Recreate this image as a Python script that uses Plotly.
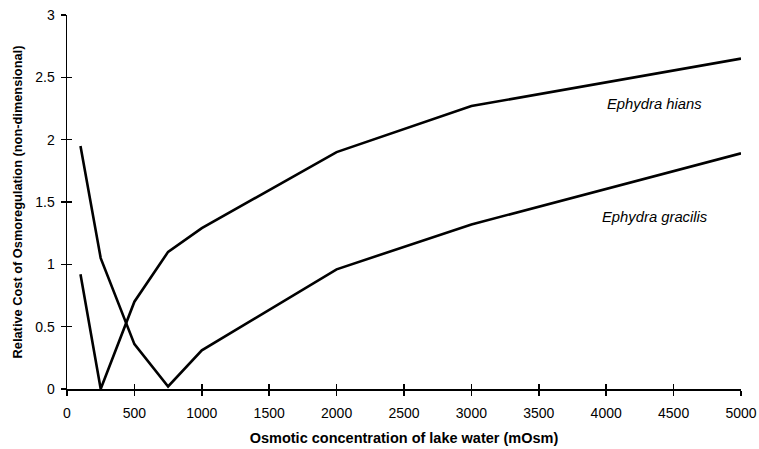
import plotly.graph_objects as go

# Data
osm = [100, 250, 500, 750, 1000, 2000, 3000, 5000]
hians = [0.92, 0.0, 0.70, 1.10, 1.29, 1.90, 2.27, 2.65]
gracilis = [1.95, 1.05, 0.36, 0.02, 0.31, 0.96, 1.32, 1.89]
x_ticks = [0, 500, 1000, 1500, 2000, 2500, 3000, 3500, 4000, 4500, 5000]
y_ticks = [0, 0.5, 1, 1.5, 2, 2.5, 3]
y_tick_text = ["0", "0.5", "1", "1.5", "2", "2.5", "3"]
label_names = ["Ephydra hians", "Ephydra gracilis"]
label_x = [4360, 4365]
label_y = [2.29, 1.38]

FONT = "Arial, Liberation Sans, Helvetica, sans-serif"

fig = go.Figure()
fig.add_trace(go.Scatter(x=osm, y=hians, mode="lines",
                         line=dict(color="black", width=2.6), showlegend=False,
                         name=label_names[0]))
fig.add_trace(go.Scatter(x=osm, y=gracilis, mode="lines",
                         line=dict(color="black", width=2.6), showlegend=False,
                         name=label_names[1]))
# invisible trace to activate overlay axes (for inner half of crossing ticks)
fig.add_trace(go.Scatter(x=osm, y=hians, xaxis="x2", yaxis="y2", mode="lines",
                         line=dict(color="rgba(0,0,0,0)", width=0),
                         showlegend=False, hoverinfo="skip"))

for name, lx, ly in zip(label_names, label_x, label_y):
    fig.add_annotation(x=lx, y=ly, text=f"<i>{name}</i>", showarrow=False,
                       font=dict(family=FONT, size=14.8, color="black"))

axis_common = dict(showgrid=False, zeroline=False, showline=True,
                   linecolor="black", linewidth=1.5, automargin=False,
                   ticklabeloverflow="allow",
                   ticks="outside", ticklen=5, tickwidth=1.5, tickcolor="black")

fig.update_layout(
    width=759, height=449,
    margin=dict(l=67, r=18, t=15, b=60, autoexpand=False),
    paper_bgcolor="white", plot_bgcolor="white",
    font=dict(family=FONT, color="black"),
    xaxis=dict(range=[0, 5000], tickvals=x_ticks,
               tickfont=dict(size=14, family=FONT, color="black"),
               ticklabelstandoff=6,
               title=dict(text="<b>Osmotic concentration of lake water (mOsm)</b>",
                          font=dict(size=14.5, family=FONT, color="black"),
                          standoff=12),
               **axis_common),
    yaxis=dict(range=[0, 3], tickvals=y_ticks, ticktext=y_tick_text,
               tickfont=dict(size=14, family=FONT, color="black"),
               ticklabelstandoff=3,
               title=dict(text="<b>Relative Cost of Osmoregulation (non-dimensional)</b>",
                          font=dict(size=12.8, family=FONT, color="black"),
                          standoff=10),
               **axis_common),
    xaxis2=dict(overlaying="x", matches="x", anchor="y2", side="bottom",
                range=[0, 5000], tickvals=x_ticks, showticklabels=False,
                showgrid=False, zeroline=False, showline=False, automargin=False,
                ticks="inside", ticklen=5, tickwidth=1.5, tickcolor="black"),
    yaxis2=dict(overlaying="y", matches="y", anchor="x2", side="left",
                range=[0, 3], tickvals=y_ticks, showticklabels=False,
                showgrid=False, zeroline=False, showline=False, automargin=False,
                ticks="inside", ticklen=5, tickwidth=1.5, tickcolor="black"),
)

# remove the default page margin so the 759x449 figure fills the window exactly
fig.write_html("out.html",
               config={"displayModeBar": False, "staticPlot": True},
               post_script="document.body.style.margin='0';"
                           "document.body.style.overflow='hidden';")
